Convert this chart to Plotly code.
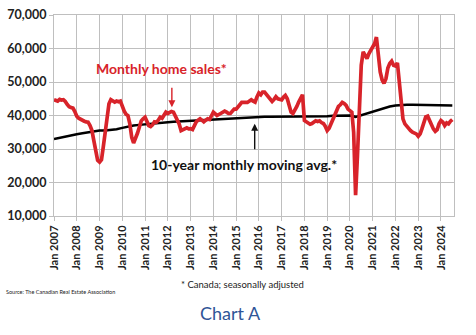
import pandas as pd
import plotly.graph_objects as go

# Monthly home sales (Canada, seasonally adjusted), Jan 2007 .. Jul 2024, in thousands
home_sales_k = [
    44.7, 44.5, 44.3, 44.8, 44.6, 44.7, 44.2, 43.3, 42.6, 42.4, 42.2, 41.2,  # 2007
    39.8, 39.2, 38.8, 38.6, 38.3, 38.1, 38.0, 37.0, 35.5, 32.5, 29.0, 26.6,  # 2008
    26.1, 26.8, 30.5, 34.7, 40.0, 43.5, 44.7, 44.2, 44.0, 44.3, 44.1, 44.3,  # 2009
    42.5, 41.3, 40.4, 40.0, 37.6, 33.5, 31.8, 33.0, 34.7, 36.5, 38.4, 39.0,  # 2010
    39.5, 38.2, 37.0, 36.7, 37.2, 38.1, 38.0, 38.6, 39.5, 39.2, 40.0, 41.0,  # 2011
    40.6, 41.0, 41.2, 41.0, 40.0, 39.0, 37.5, 35.5, 35.8, 36.1, 36.3, 36.0,  # 2012
    36.1, 35.8, 37.0, 38.1, 38.6, 39.0, 38.6, 38.1, 38.6, 39.0, 38.8, 40.0,  # 2013
    41.0, 40.5, 40.0, 40.3, 40.7, 41.0, 41.3, 41.0, 40.6, 40.6, 41.2, 41.9,  # 2014
    41.9, 42.4, 43.2, 43.9, 43.8, 43.9, 43.9, 44.2, 44.7, 44.3, 44.0, 45.5,  # 2015
    46.7, 46.2, 47.0, 47.0, 46.3, 45.6, 45.0, 44.2, 44.8, 45.6, 45.0, 44.7,  # 2016
    44.7, 45.5, 46.0, 45.0, 42.7, 41.0, 40.6, 41.5, 42.7, 44.0, 45.0, 46.2,  # 2017
    38.5, 38.1, 37.6, 37.4, 37.6, 38.1, 38.4, 38.2, 38.4, 37.9, 37.6, 36.8,  # 2018
    35.5, 36.2, 37.4, 39.0, 40.5, 42.0, 42.7, 43.2, 43.9, 43.6, 43.0, 41.9,  # 2019
    41.5, 41.0, 35.0, 16.2, 28.0, 46.0, 55.0, 59.0, 58.0, 57.0, 58.5, 59.5,  # 2020
    60.4, 61.5, 63.4, 58.5, 53.0, 50.6, 49.6, 51.0, 54.2, 55.5, 56.2, 55.0,  # 2021
    54.8, 55.7, 50.0, 44.2, 39.0, 37.5, 36.7, 36.0, 35.5, 35.0, 34.8, 34.5,  # 2022
    33.8, 34.5, 36.0, 38.0, 39.6, 39.8, 38.5, 37.0, 36.0, 35.3, 35.8, 37.5,  # 2023
    38.5, 38.0, 37.0, 37.8, 37.5, 38.3, 38.8,                                # 2024
]

# 10-year monthly moving average, read quarterly (Jan, Apr, Jul, Oct), in thousands
moving_avg_k = [
    33.0, 33.4, 33.8, 34.1,  # 2007
    34.4, 34.7, 35.0, 35.3,  # 2008
    35.5, 35.5, 35.6, 35.9,  # 2009
    36.3, 36.7, 37.0, 37.2,  # 2010
    37.4, 37.6, 37.8, 37.9,  # 2011
    38.0, 38.1, 38.2, 38.3,  # 2012
    38.4, 38.5, 38.6, 38.6,  # 2013
    38.7, 38.8, 39.0, 39.1,  # 2014
    39.2, 39.3, 39.4, 39.5,  # 2015
    39.5, 39.6, 39.6, 39.6,  # 2016
    39.6, 39.7, 39.7, 39.7,  # 2017
    39.7, 39.8, 39.8, 39.8,  # 2018
    39.8, 39.9, 39.9, 40.0,  # 2019
    40.0, 39.6, 40.1, 40.6,  # 2020
    41.2, 41.8, 42.3, 42.7,  # 2021
    43.0, 43.2, 43.2, 43.2,  # 2022
    43.2, 43.2, 43.1, 43.1,  # 2023
    43.1, 43.0, 43.0,        # 2024
]

tick_years = list(range(2007, 2025))
tick_labels = [f"Jan {y}" for y in tick_years]
y_ticks = [10000, 20000, 30000, 40000, 50000, 60000, 70000]

sales_dates = pd.date_range("2007-01-01", periods=len(home_sales_k), freq="MS")
ma_dates = pd.date_range("2007-01-01", periods=len(moving_avg_k), freq="QS")
sales = [v * 1000 for v in home_sales_k]
ma = [v * 1000 for v in moving_avg_k]

RED = "#d8232a"
GRID = "#bfbfbf"
FONT = "Lato"

fig = go.Figure()
fig.add_trace(go.Scatter(x=ma_dates, y=ma, mode="lines",
                         line=dict(color="#000000", width=2.5), hoverinfo="skip"))
fig.add_trace(go.Scatter(x=sales_dates, y=sales, mode="lines",
                         line=dict(color=RED, width=3.7), hoverinfo="skip"))

fig.update_layout(
    width=476, height=335,
    margin=dict(l=53, r=22, t=7, b=119),
    paper_bgcolor="white", plot_bgcolor="white",
    showlegend=False,
    font=dict(family=FONT, color="#222222"),
)
fig.update_xaxes(
    range=["2007-01-01", "2024-07-28"],
    tickvals=[pd.Timestamp(f"{y}-01-01") for y in tick_years],
    ticktext=tick_labels,
    tickangle=-90,
    tickfont=dict(family=FONT, size=11, color="#222222", weight="bold"),
    showgrid=True, gridcolor=GRID, gridwidth=1,
    showline=True, linecolor=GRID, linewidth=1, mirror=True,
    ticks="outside", ticklen=4, tickcolor=GRID,
)
fig.update_yaxes(
    range=[10000, 70000],
    tickvals=y_ticks,
    tickformat=",",
    tickfont=dict(family=FONT, size=12.5, color="#222222", weight="bold"),
    ticklabeloverflow="allow",
    showgrid=True, gridcolor=GRID, gridwidth=1,
    showline=True, linecolor=GRID, linewidth=1, mirror=True,
    ticks="outside", ticklen=4, tickcolor=GRID,
    zeroline=False,
)

# Series labels
fig.add_annotation(text="Monthly home sales*", xref="paper", yref="paper",
                   x=0.0998, y=0.732, xanchor="left", yanchor="middle",
                   showarrow=False, font=dict(family=FONT, size=14, color=RED, weight="bold"))
fig.add_annotation(x=pd.Timestamp("2012-03-06"), y=42440, xref="x", yref="y",
                   ax=0, ay=-21, text="", showarrow=True, arrowhead=2,
                   arrowsize=1, arrowwidth=1.4, arrowcolor=RED)
fig.add_annotation(text="10-year monthly moving avg.*", xref="paper", yref="paper",
                   x=0.237, y=0.254, xanchor="left", yanchor="middle",
                   showarrow=False, font=dict(family=FONT, size=14, color="#111111", weight="bold"))
fig.add_annotation(x=pd.Timestamp("2015-10-26"), y=37556, xref="x", yref="y",
                   ax=0, ay=27, text="", showarrow=True, arrowhead=2,
                   arrowsize=1, arrowwidth=1.4, arrowcolor="#111111")

# Footnotes and caption
fig.add_annotation(text="* Canada; seasonally adjusted", xref="paper", yref="paper",
                   x=(242 - 53) / 401, y=(216 - 287) / 209, xanchor="center", yanchor="middle",
                   showarrow=False, font=dict(family=FONT, size=9.5, color="#222222"))
fig.add_annotation(text="Source: The Canadian Real Estate Association", xref="paper", yref="paper",
                   x=(3 - 53) / 401, y=(216 - 295) / 209, xanchor="left", yanchor="middle",
                   showarrow=False, font=dict(family=FONT, size=5.5, color="#222222"))
fig.add_annotation(text="Chart A", xref="paper", yref="paper",
                   x=(230 - 53) / 401, y=(216 - 317) / 209, xanchor="center", yanchor="middle",
                   showarrow=False, font=dict(family=FONT, size=18, color="#2f5597"))

fig.write_html("out.html")
